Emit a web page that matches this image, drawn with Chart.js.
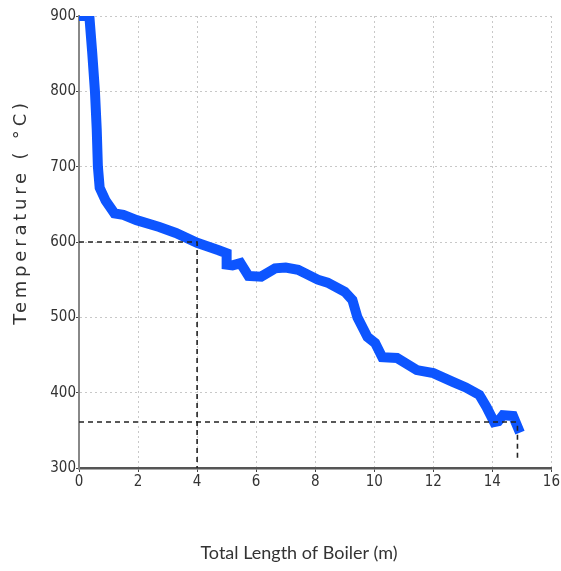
<!DOCTYPE html>
<html>
<head>
<meta charset="utf-8">
<script src="https://cdn.jsdelivr.net/npm/chart.js@4"></script>
<style>
html,body{margin:0;padding:0;background:#fff;}
#wrap{width:561px;height:571px;}
</style>
</head>
<body>
<div id="wrap"><canvas id="c" width="561" height="571"></canvas></div>
<script>
// Data
const lengthM = [0.15,0.35,0.45,0.54,0.6,0.64,0.7,0.9,1.2,1.5,1.95,2.72,3.28,4.0,4.73,5.0,5.0,5.2,5.47,5.74,6.17,6.64,7.0,7.42,8.09,8.42,9.0,9.26,9.43,9.77,10.03,10.27,10.77,11.44,12.0,12.68,13.1,13.56,13.8,14.06,14.2,14.36,14.7,14.87];
const tempC   = [900,900,850,800,750,700,672,655,638,636,629,620,612,599,589,585,570,569,572,555,554,565,566,563,550,546,534,523,500,474,466,447,446,430,426,414,407,397,381,361,362,370,369,353];
const refLine1X = [0,4,4];
const refLine1Y = [600,600,300];
const refLine2X = [0,14.85];
const refLine2Y = [361,361];
const refLine3X = [14.85,14.85];
const refLine3Y = [356,310];
const xTicks = [0,2,4,6,8,10,12,14,16];
const yTicks = [300,400,500,600,700,800,900];
const xTitle = 'Total Length of Boiler (m)';
const yTitle = 'Temperature ( °C)';

const pts = (xs, ys) => xs.map((x, i) => ({x: x, y: ys[i]}));
const dashed = {showLine:true, borderColor:'#222', borderWidth:1.6, borderDash:[5,4], pointRadius:0, fill:false};

const titlePlugin = {
  id:'titles',
  afterDraw(chart){
    const ctx = chart.ctx;
    ctx.save();
    ctx.translate(21, 212);
    ctx.rotate(-Math.PI/2);
    ctx.font = '18px "DejaVu Sans"';
    try { ctx.letterSpacing = '3.8px'; } catch(e) {}
    ctx.fillStyle = '#333';
    ctx.textAlign = 'center';
    ctx.textBaseline = 'middle';
    ctx.fillText(yTitle, 0, 0);
    ctx.restore();
    ctx.save();
    ctx.font = '18px Lato';
    ctx.fillStyle = '#333';
    ctx.textAlign = 'center';
    ctx.textBaseline = 'middle';
    ctx.fillText(xTitle, 299, 553);
    ctx.restore();
  }
};

new Chart(document.getElementById('c'), {
  type:'scatter',
  data:{
    datasets:[
      Object.assign({data: pts(refLine1X, refLine1Y)}, dashed),
      Object.assign({data: pts(refLine2X, refLine2Y)}, dashed),
      Object.assign({data: pts(refLine3X, refLine3Y)}, dashed),
      {data: pts(lengthM, tempC), showLine:true, borderColor:'#0d55ff', backgroundColor:'#0d55ff', borderWidth:10, pointRadius:0, borderJoinStyle:'miter', borderCapStyle:'square', fill:false, tension:0}
    ]
  },
  options:{
    responsive:false,
    animation:false,
    devicePixelRatio:1,
    layout:{padding:{top:16,right:5,left:0,bottom:0}},
    plugins:{legend:{display:false}, tooltip:{enabled:false}},
    scales:{
      x:{
        type:'linear', min:0, max:16,
        afterBuildTicks(s){ s.ticks = xTicks.map(v => ({value:v})); },
        afterFit(s){ s.height = 103; },
        grid:{color:'#c8c8c8', lineWidth:1, tickLength:4, tickColor:'#444', drawTicks:true},
        border:{display:true, color:'#555', width:2.5, dash:[2,3]},
        ticks:{color:'#333', font:{family:'"DejaVu Sans Condensed", "DejaVu Sans"', size:15}, padding:1, maxRotation:0}
      },
      y:{
        type:'linear', min:300, max:900,
        afterBuildTicks(s){ s.ticks = yTicks.map(v => ({value:v})); },
        afterFit(s){ s.width = 79; },
        grid:{color:'#c8c8c8', lineWidth:1, tickLength:3, tickColor:'#444'},
        border:{display:true, color:'#888', width:2, dash:[2,3]},
        ticks:{color:'#333', font:{family:'"DejaVu Sans Condensed", "DejaVu Sans"', size:15}, padding:0}
      }
    }
  },
  plugins:[titlePlugin]
});
</script>
</body>
</html>
